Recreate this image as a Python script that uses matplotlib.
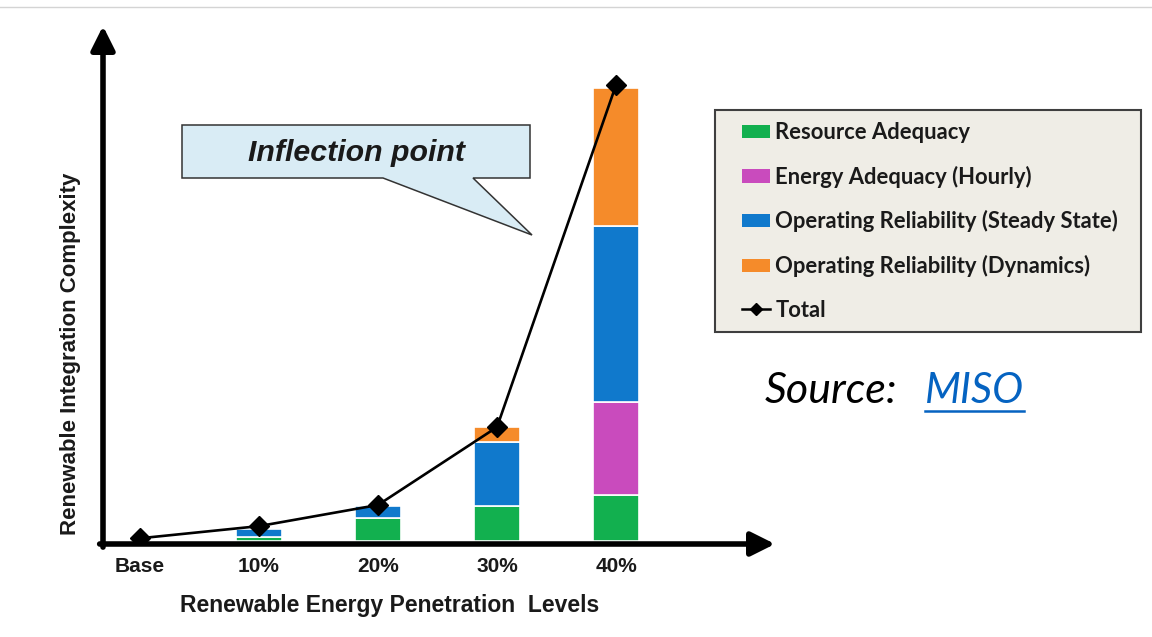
import numpy as np
import matplotlib
matplotlib.use('Agg')
import matplotlib.pyplot as plt
from matplotlib.patches import Patch, Polygon, Rectangle
from matplotlib.lines import Line2D

# penetration levels and the stacked complexity components
levels = ['Base', '10%', '20%', '30%', '40%']
resource_adequacy = [0.0, 0.9, 5.1, 7.8, 10.2]
energy_adequacy = [0.0, 0.0, 0.0, 0.0, 20.7]
steady_state = [0.0, 1.7, 2.7, 14.2, 39.1]
dynamics = [0.0, 0.0, 0.0, 3.3, 30.7]
total = [0.6, 3.3, 8.0, 25.3, 101.3]

series_names = ['Resource Adequacy', 'Energy Adequacy (Hourly)',
                'Operating Reliability (Steady State)', 'Operating Reliability (Dynamics)']
series_colors = ['#12b04f', '#c94bbd', '#1079cc', '#f58b2a']

W, H = 1152, 637
fig = plt.figure(figsize=(W / 100, H / 100), dpi=100)
fig.patch.set_facecolor('white')

def fx(px):
    return px / W

def fy(py):
    return 1 - py / H

# axes placed so the arrows meet at the lower-left corner
ax = fig.add_axes([fx(103), fy(544), fx(775) - fx(103), fy(26) - fy(544)])
ax.set_xlim(-0.311, 5.336)
ax.set_ylim(-0.67, 114.4)
for s in ax.spines.values():
    s.set_visible(False)
ax.set_yticks([])

x = np.arange(len(levels))
bottom = np.zeros(len(levels))
for vals, c in zip([resource_adequacy, energy_adequacy, steady_state, dynamics], series_colors):
    vals = np.array(vals)
    ax.bar(x, vals, width=0.39, bottom=bottom, color=c, edgecolor='white',
           linewidth=np.where(vals > 0, 1.2, 0), zorder=2)
    bottom += vals

ax.plot(x, total, color='black', lw=1.9, marker='D', markersize=10, zorder=6)

# arrow-headed axes
arrow = dict(arrowstyle='-|>', lw=4, color='black', mutation_scale=36,
             shrinkA=0, shrinkB=0)
ax.annotate('', xy=(1, 0), xytext=(-0.005, 0), xycoords='axes fraction',
            arrowprops=arrow, zorder=5, annotation_clip=False)
ax.annotate('', xy=(0, 1), xytext=(0, -0.006), xycoords='axes fraction',
            arrowprops=arrow, zorder=5, annotation_clip=False)

ax.set_xticks(x)
ax.set_xticklabels(levels, fontfamily='Liberation Sans', fontweight='bold',
                   fontsize=15, color='#1a1a1a')
ax.tick_params(axis='x', length=0, pad=9)

ax.set_xlabel('Renewable Energy Penetration  Levels', fontfamily='Liberation Sans',
              fontweight='bold', fontsize=16.5, color='#1a1a1a')
ax.xaxis.set_label_coords(0.427, -0.096)
ax.set_ylabel('Renewable Integration Complexity', fontfamily='Liberation Sans',
              fontweight='bold', fontsize=16, color='#1a1a1a')
ax.yaxis.set_label_coords(-0.033, 0.367)

# callout box
callout = [(182, 125), (530, 125), (530, 178), (473, 178), (532, 235),
           (383, 178), (182, 178)]
fig.patches.append(Polygon([(fx(a), fy(b)) for a, b in callout], closed=True,
                           transform=fig.transFigure, facecolor='#d9ecf5',
                           edgecolor='#333333', lw=1.1))
fig.text(fx(357), fy(153), 'Inflection point', fontfamily='Liberation Sans',
         fontweight='bold', fontstyle='italic', fontsize=21.8, color='#1a1a1a',
         ha='center', va='center')

# legend with its own framed box
fig.patches.append(Rectangle((fx(715), fy(332)), fx(1141) - fx(715), fy(110) - fy(332),
                             transform=fig.transFigure, facecolor='#efede6',
                             edgecolor='#3f3f3f', lw=1.5))
handles = [Patch(facecolor=c, edgecolor='none') for c in series_colors]
handles.append(Line2D([], [], color='black', lw=1.8, marker='D', markersize=6))
leg = fig.legend(handles, series_names + ['Total'], loc='upper left',
                 bbox_to_anchor=(fx(742), fy(122)), frameon=False,
                 borderpad=0, borderaxespad=0, handlelength=1.27,
                 handleheight=0.55, handletextpad=0.25, labelspacing=1.03,
                 prop={'family': 'Lato', 'weight': 'bold', 'size': 15.8})
for t in leg.get_texts():
    t.set_color('#1a1a1a')

# source note
fig.text(fx(765), fy(403), 'Source:', fontfamily='Lato', fontstyle='italic',
         fontsize=31, color='black', va='baseline')
miso = fig.text(fx(925), fy(403), 'MISO', fontfamily='Lato', fontstyle='italic',
                fontsize=30, color='#0563c1', va='baseline')
fig.canvas.draw()
bb = miso.get_window_extent().transformed(fig.transFigure.inverted())
fig.lines.append(Line2D([bb.x0, bb.x1], [fy(411), fy(411)], transform=fig.transFigure,
                        color='#0563c1', lw=1.8))

# thin frame line along the top
fig.lines.append(Line2D([0, 1], [fy(7), fy(7)], transform=fig.transFigure,
                        color='#d4d4d4', lw=1))

fig.savefig('out.png', dpi=100)
